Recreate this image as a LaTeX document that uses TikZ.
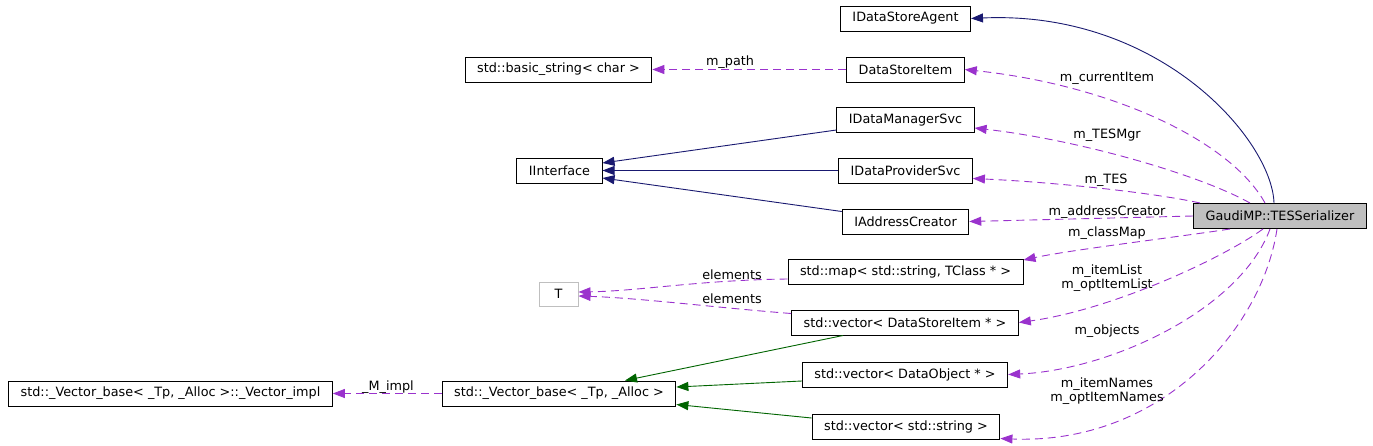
\documentclass[tikz,border=0pt]{standalone}
\usepackage{fontspec}
\setmainfont{DejaVu Sans}
\usetikzlibrary{arrows.meta}
\definecolor{inhblue}{HTML}{191970}
\definecolor{membpurple}{HTML}{9A32CD}
\definecolor{tplgreen}{HTML}{006400}
\definecolor{boxgray}{HTML}{BFBFBF}
\tikzset{every node/.style={font=\fontsize{12.8}{14.5}\selectfont, inner sep=0pt},
  cbox/.style={draw=black, fill=white, line width=1pt, minimum height=25pt, inner xsep=12pt},
  selbox/.style={cbox, fill=boxgray},
  tbox/.style={cbox, draw=boxgray, minimum width=39pt, minimum height=24pt},
  lbl/.style={align=center},
  inh/.style={draw=inhblue, line width=0.9pt, -{Triangle[length=12pt,width=9pt,fill=inhblue]}},
  memb/.style={draw=membpurple, line width=0.9pt, dash pattern=on 8pt off 5pt, -{Triangle[length=12pt,width=9pt,fill=membpurple]}},
  tpl/.style={draw=tplgreen, line width=0.9pt, -{Triangle[length=12pt,width=9pt,fill=tplgreen]}}}

\begin{document}
\begin{tikzpicture}[x=1pt,y=-1pt]
  \useasboundingbox (0,0) rectangle (1373,445);
  \node[cbox] (agent) at (905.5,18.5) {IDataStoreAgent};
  \node[cbox] (item)  at (905.5,69.5) {DataStoreItem};
  \node[cbox] (mgr)   at (905.5,120)  {IDataManagerSvc};
  \node[cbox] (prov)  at (905.5,170.5) {IDataProviderSvc};
  \node[cbox] (addr)  at (905.5,221.5) {IAddressCreator};
  \node[selbox] (ser) at (1280,216) {GaudiMP::TESSerializer};
  \node[cbox] (bstr)  at (558.5,69.5) {std::basic\_string< char >};
  \node[cbox] (iif)   at (559.5,170.5) {IInterface};
  \node[cbox] (map)   at (905.5,272)  {std::map< std::string, TClass * >};
  \node[tbox] (T)     at (558.5,294)  {T};
  \node[cbox] (vitem) at (905,322.5)  {std::vector< DataStoreItem * >};
  \node[cbox] (vobj)  at (905,374.5)  {std::vector< DataObject * >};
  \node[cbox] (vbase) at (559,393.5)  {std::\_Vector\_base< \_Tp, \_Alloc >};
  \node[cbox] (vimpl) at (170.5,393.5) {std::\_Vector\_base< \_Tp, \_Alloc >::\_Vector\_impl};
  \node[cbox] (vstr)  at (906,426.5)  {std::vector< std::string >};

  \draw[inh] ([xshift=-6pt]ser.north) .. controls (1272,140) and (1160,10) .. (agent.east);
  \draw[memb] ([xshift=-15pt]ser.north) .. controls (1230,140) and (1110,85) .. (item.east);
  \draw[memb] ([xshift=-30pt]ser.north) .. controls (1200,175) and (1080,140) .. ([yshift=5pt]mgr.south east);
  \draw[memb] ([xshift=-80pt]ser.north) .. controls (1150,192) and (1050,182) .. ([yshift=5pt]prov.south east);
  \draw[memb] (ser.west) -- (addr.east);
  \draw[memb] ([xshift=-50pt]ser.south) .. controls (1170,238) and (1070,250) .. ([yshift=-1pt]map.north east);
  \draw[memb] ([xshift=-17pt]ser.south) .. controls (1220,260) and (1110,310) .. (vitem.east);
  \draw[memb] ([xshift=-10pt]ser.south) .. controls (1240,310) and (1110,370) .. (vobj.east);
  \draw[memb] ([xshift=-3pt]ser.south) .. controls (1262,330) and (1160,445) .. ([yshift=1pt]vstr.south east);
  \node[lbl] (lcur)  at (1107,78)  {m\_currentItem};
  \node[lbl] (lmgr)  at (1107,135) {m\_TESMgr};
  \node[lbl] (ltes)  at (1106,180) {m\_TES};
  \node[lbl] (laddr) at (1107,212) {m\_addressCreator};
  \node[lbl] (lmap)  at (1107,233) {m\_classMap};
  \node[lbl] (llist) at (1107,278) {m\_itemList\\m\_optItemList};
  \node[lbl] (lobj)  at (1107,331) {m\_objects};
  \node[lbl] (lname) at (1107,391) {m\_itemNames\\m\_optItemNames};

  \draw[memb] (item.west) -- (bstr.east);
  \node[lbl] (lpath) at (730,62) {m\_path};
  \draw[inh] ([yshift=3pt]mgr.south west) -- ([yshift=7.5pt]iif.east);
  \draw[inh] (prov.west) -- (iif.east);
  \draw[inh] ([yshift=-3pt]addr.north west) -- ([yshift=-7.5pt]iif.east);

  \draw[memb] ([yshift=-7pt]map.west) .. controls (700,280) and (640,291) .. ([yshift=2pt]T.east);
  \draw[memb] ([yshift=9pt]vitem.west) .. controls (720,308) and (640,298) .. ([yshift=-2pt]T.east);
  \node[lbl] (lel1) at (732,275) {elements};
  \node[lbl] (lel2) at (732,299) {elements};
  \draw[tpl] ([xshift=-62pt]vitem.south) -- ([xshift=66pt]vbase.north);
  \draw[tpl] ([yshift=-6.5pt]vobj.west) -- ([yshift=6.5pt]vbase.east);
  \draw[tpl] ([yshift=8.5pt]vstr.west) -- ([yshift=-11pt]vbase.east);
  \draw[memb] (vbase.west) -- (vimpl.east);
  \node[lbl] (limpl) at (388,387) {\_M\_impl};
\end{tikzpicture}
\end{document}
